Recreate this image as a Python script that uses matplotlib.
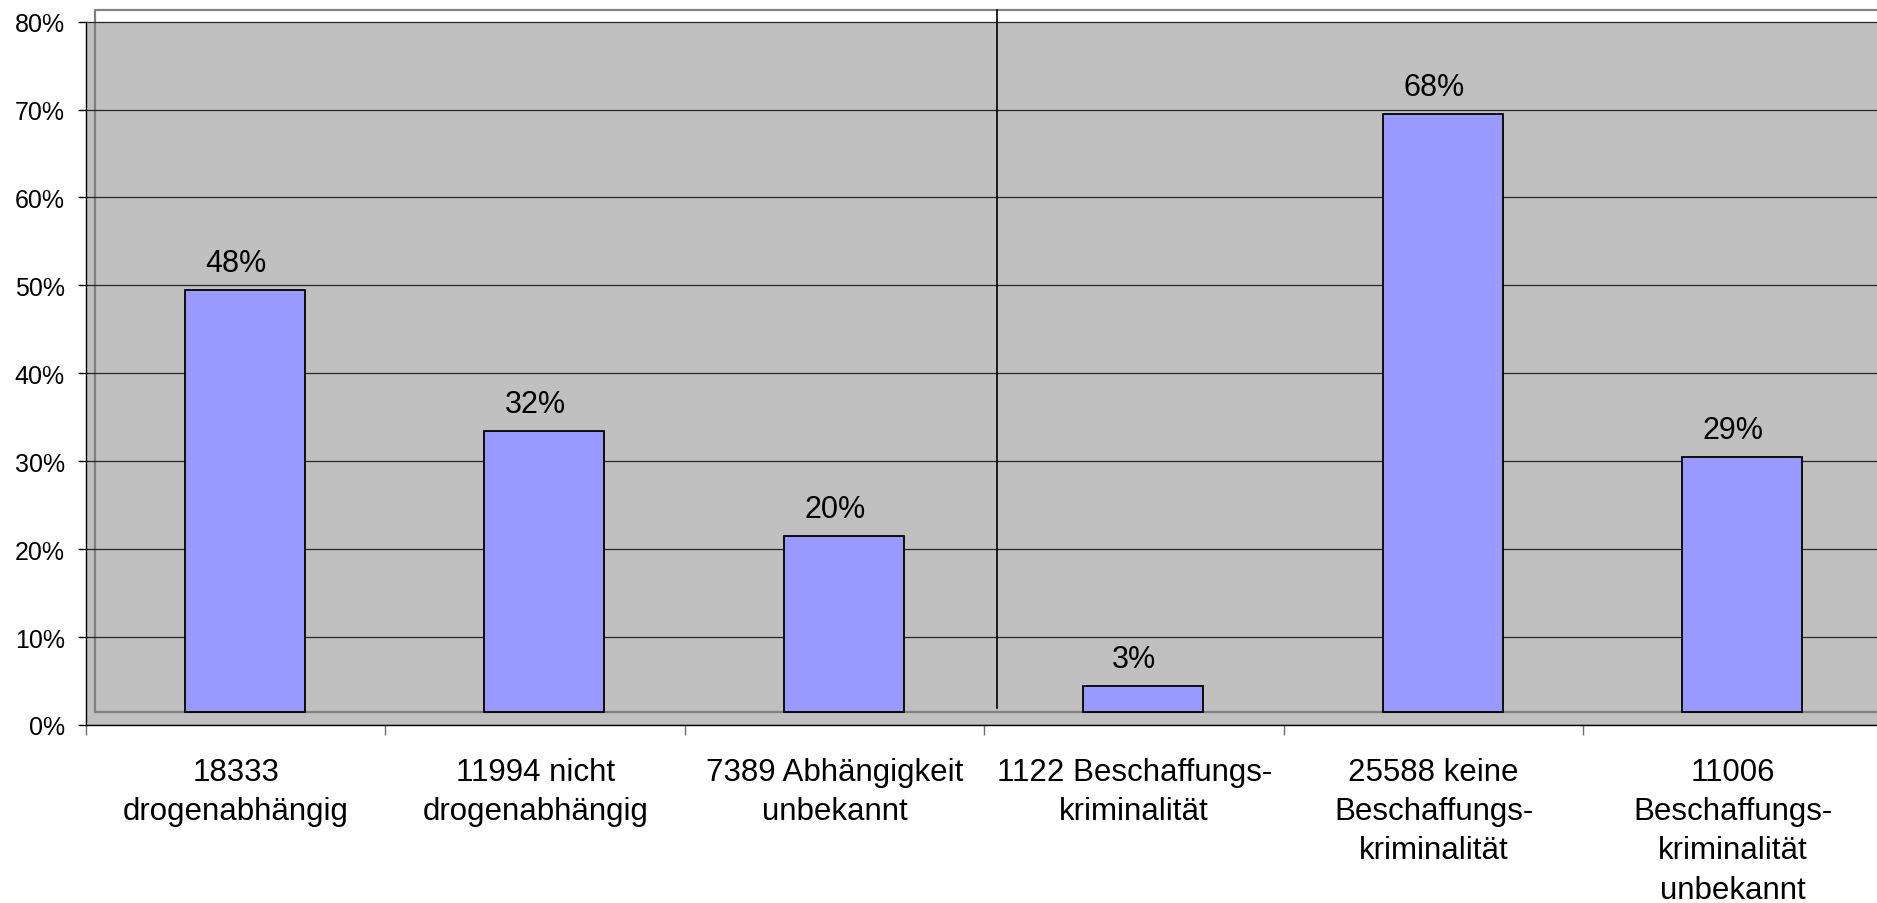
import matplotlib
matplotlib.use("Agg")
import matplotlib.pyplot as plt
from matplotlib.ticker import FixedLocator, PercentFormatter

plt.rcParams['font.family'] = ['Liberation Sans', 'DejaVu Sans']

# ======== Data ========

categories = [
    "18333\ndrogenabhängig",
    "11994 nicht\ndrogenabhängig",
    "7389 Abhängigkeit\nunbekannt",
    "1122 Beschaffungs-\nkriminalität",
    "25588 keine\nBeschaffungs-\nkriminalität",
    "11006\nBeschaffungs-\nkriminalität\nunbekannt",
]
values = [48, 32, 20, 3, 68, 29]
y_ticks = [0, 10, 20, 30, 40, 50, 60, 70, 80]

# ======== Style ========

WALL = "#C0C0C0"
WALL_EDGE = "#808080"
BAR = "#9999FF"
DX = 0.030      # 3D depth offset along x (category units)
DY = 1.48       # 3D depth offset along y (percent)
Y_TOP = 81.36
X_MIN, X_MAX = -0.5, 5.48
DIVIDER_X = 2.542


def main():
    fig = plt.figure(figsize=(18.77, 9.04), dpi=100)
    ax = fig.add_axes([86 / 1877, 178 / 904, 1 - 86 / 1877, (726 - 10.7) / 904])
    ax.set_xlim(X_MIN, X_MAX)
    ax.set_ylim(0, Y_TOP)
    ax.set_facecolor("white")

    # back wall + floor
    ax.axhspan(0, 80, color=WALL, zorder=0.1, lw=0)
    ax.plot([X_MIN + DX, X_MIN + DX, X_MAX], [DY, Y_TOP, Y_TOP],
            color=WALL_EDGE, lw=1.6, zorder=0.3, clip_on=False,
            solid_capstyle="butt")
    ax.plot([X_MIN + DX, X_MAX], [DY, DY], color=WALL_EDGE, lw=1.6, zorder=0.3)

    # gridlines
    ax.set_axisbelow(True)
    ax.yaxis.grid(True, color="#262626", lw=0.9)

    # bars (front face shifted by depth offset)
    xs = [i + DX for i in range(len(values))]
    ax.bar(xs, values, width=0.4, bottom=DY, color=BAR, edgecolor="black",
           linewidth=1.3, zorder=2)

    for i, v in enumerate(values):
        ax.text(i, DY + v + 2.16, f"{v}%", ha="center", va="baseline",
                fontsize=22, zorder=4)

    # divider between the two groups
    ax.plot([DIVIDER_X, DIVIDER_X], [1.93, Y_TOP], color="black", lw=1.2,
            zorder=3, clip_on=False)

    # axes
    for side in ("top", "right"):
        ax.spines[side].set_visible(False)
    ax.spines["left"].set_bounds(0, 80)
    ax.spines["left"].set_linewidth(1.0)
    ax.spines["bottom"].set_linewidth(1.0)

    ax.set_yticks(y_ticks)
    ax.yaxis.set_major_formatter(PercentFormatter(decimals=0))
    ax.tick_params(axis="y", labelsize=18, length=5.8, width=1.0, pad=9.4,
                   direction="out")

    ax.xaxis.set_major_locator(FixedLocator([i - 0.5 for i in range(7)]))
    ax.xaxis.set_minor_locator(FixedLocator(list(range(len(categories)))))
    ax.set_xticklabels([])
    ax.set_xticklabels(categories, minor=True, fontsize=22.5, linespacing=1.4)
    ax.tick_params(axis="x", which="major", length=7.2, width=1.0,
                   color="#707070", direction="out")
    ax.tick_params(axis="x", which="minor", length=0, pad=23)

    fig.savefig("out.png", dpi=100)


if __name__ == "__main__":
    main()
